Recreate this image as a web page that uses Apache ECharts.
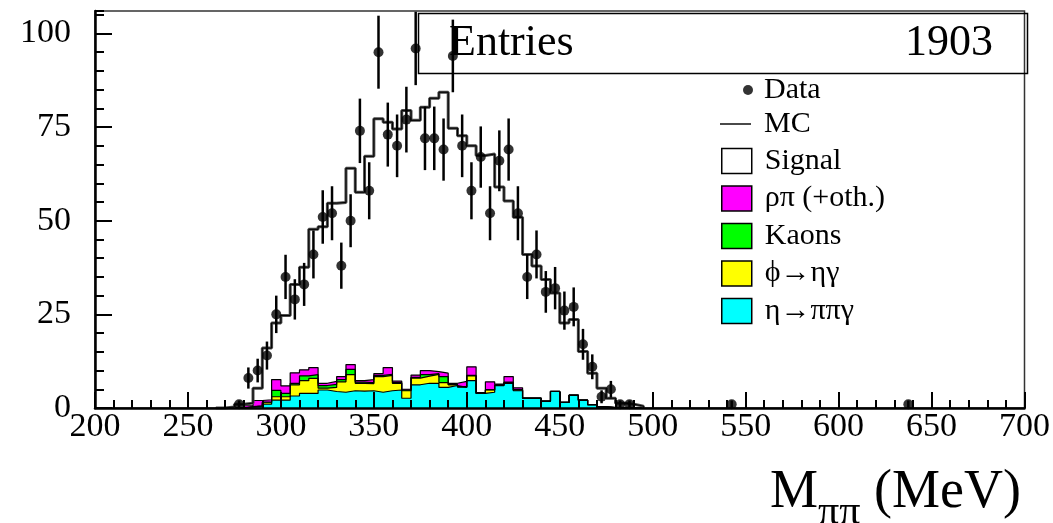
<!DOCTYPE html>
<html>
<head>
<meta charset="utf-8">
<script src="https://cdn.jsdelivr.net/npm/echarts@6/dist/echarts.min.js"></script>
<style>
html, body { margin: 0; padding: 0; background: #fff; }
#mpipi { width: 1053px; height: 523px; }
</style>
</head>
<body>
<div id="mpipi"></div>
<script>
// bin centres (MeV), 5 MeV bins
var massBins = [267.5, 272.5, 277.5, 282.5, 287.5, 292.5, 297.5, 302.5, 307.5, 312.5,
    317.5, 322.5, 327.5, 332.5, 337.5, 342.5, 347.5, 352.5, 357.5, 362.5,
    367.5, 372.5, 377.5, 382.5, 387.5, 392.5, 397.5, 402.5, 407.5, 412.5,
    417.5, 422.5, 427.5, 432.5, 437.5, 442.5, 447.5, 452.5, 457.5, 462.5,
    467.5, 472.5, 477.5, 482.5, 487.5, 492.5];
var binHalf = 2.5;

// MC total
var mcTotal = [0, 0.3, 1.0, 1.3, 5.3, 16, 22.7, 24.7, 33, 37.6,
    47.7, 48.4, 54.7, 54.9, 64, 57.6, 67.2, 77.2, 76.3, 74.5,
    79.4, 76.8, 80.3, 82.7, 84.3, 74.7, 72.7, 70, 67.4, 67.8,
    59, 55.3, 50.9, 41, 37.9, 34.3, 30.7, 22.7, 23.6, 15.1,
    9.3, 5.3, 2.6, 1.3, 1.0, 0.5];

// backgrounds (own contribution of each, stacked bottom -> top)
var etaPiPiGamma = [0, 0, 0, 0.2, 0.3, 1.0, 2.1, 2.1, 3.2, 3.9,
    3.9, 4.8, 4.4, 4.2, 4.6, 4.5, 4.6, 4.2, 4.6, 4.8,
    2.6, 6.2, 6.6, 6.6, 5.5, 6.0, 5.5, 7.3, 3.9, 4.2,
    6.0, 6.6, 4.6, 2.6, 2.6, 1.8, 4.4, 1.5, 3.4, 2.1,
    0.9, 0.3, 0.1, 0, 0, 0];
var phiEtaGamma = [0, 0, 0, 0.1, 0.2, 0.4, 0.9, 0.9, 3.0, 3.4,
    4.0, 0.5, 1.1, 2.8, 4.3, 2.1, 1.9, 4.2, 4.1, 1.8,
    2.0, 1.8, 1.9, 2.4, 1.3, 0.2, 0.1, 1.3, 0, 0.6,
    0.1, 0.2, 0.2, 0, 0, 0, 0, 0, 0, 0,
    0, 0, 0, 0, 0, 0];
var kaons = [0, 0, 0, 0.1, 0.1, 0.2, 1.7, 0.9, 0.4, 1.3,
    1.0, 0.7, 0.8, 0.6, 1.4, 0.3, 0.3, 0.3, 0.3, 0.2,
    0.2, 0.2, 0.4, 0.2, 1.6, 0.1, 0.1, 0.1, 0.1, 0.1,
    0.1, 0.1, 0.1, 0, 0, 0, 0, 0, 0, 0,
    0, 0, 0, 0, 0, 0];
var rhoPi = [0, 0, 0, 0.2, 1.4, 0.6, 2.9, 2.0, 2.8, 1.6,
    1.9, 0.6, 0.8, 0.8, 1.3, 0.4, 0.8, 0.5, 1.8, 0.4,
    0.2, 0.6, 1.1, 0.5, 0.9, 0.3, 1.4, 2.3, 0.1, 2.1,
    0.2, 1.5, 0.5, 0.1, 0.1, 0.1, 0.1, 0, 0.1, 0,
    0, 0, 0, 0, 0, 0];

// data points
var dataMass = [277.5, 282.5, 287.5, 292.5, 297.5, 302.5, 307.5, 312.5, 317.5, 322.5,
    327.5, 332.5, 337.5, 342.5, 347.5, 352.5, 357.5, 362.5, 367.5, 372.5,
    377.5, 382.5, 387.5, 392.5, 397.5, 402.5, 407.5, 412.5, 417.5, 422.5,
    427.5, 432.5, 437.5, 442.5, 447.5, 452.5, 457.5, 462.5, 467.5, 472.5,
    477.5, 482.5, 487.5, 542.5, 637.5];
var dataCounts = [1, 8, 10, 14, 25, 35, 29, 33, 41, 51,
    52, 38, 50, 74, 58, 95, 73, 70, 77, 96,
    72, 72, 69, 94, 70, 58, 67, 52, 66, 69,
    52, 35, 41, 31, 32, 26, 27, 17, 11, 3,
    5, 1, 1, 1, 1];

var yTickLabels = [0, 25, 50, 75, 100];

var serif = '"Liberation Serif", "DejaVu Serif", serif';

function toSteps(vals) {
    var pts = [];
    for (var i = 0; i < massBins.length; i++) {
        pts.push([massBins[i] - binHalf, vals[i]]);
    }
    pts.push([massBins[massBins.length - 1] + binHalf, 0]);
    return pts;
}

// running sums so each layer is drawn from 0 up to its stacked top
function addUp(layers) {
    var out = [];
    for (var i = 0; i < massBins.length; i++) {
        var s = 0;
        for (var k = 0; k < layers.length; k++) s += layers[k][i];
        out.push(+s.toFixed(2));
    }
    return out;
}

function bkg(name, tops, color, z) {
    return {
        name: name,
        type: 'line',
        step: 'end',
        data: toSteps(tops),
        symbol: 'none',
        color: color,
        lineStyle: { color: '#000', width: 1.2 },
        areaStyle: { color: color, opacity: 1 },
        z: z
    };
}

var dataPts = [];
var entries = 0;
for (var i = 0; i < dataMass.length; i++) {
    dataPts.push([dataMass[i], dataCounts[i]]);
    entries += dataCounts[i];
}

var chart = echarts.init(document.getElementById('mpipi'));

var legendText = { fontFamily: serif, fontSize: 30, color: '#000', lineHeight: 25, padding: [0, 0, 0, 8] };

option = {
    animation: false,
    backgroundColor: '#fff',
    grid: {
        left: 95, right: 28, top: 11, bottom: 115,
        show: true, borderColor: '#333', borderWidth: 1.5
    },
    xAxis: {
        type: 'value', min: 200, max: 700, interval: 50, z: 5,
        axisLine: { lineStyle: { color: '#000', width: 2.5 } },
        axisTick: { inside: true, length: 16, lineStyle: { color: '#000', width: 2 } },
        minorTick: { show: true, splitNumber: 5, length: 8, lineStyle: { color: '#000', width: 2 } },
        splitLine: { show: false },
        axisLabel: { fontFamily: serif, fontSize: 34, color: '#000', margin: 2 }
    },
    yAxis: [
        {
            type: 'value', min: 0, max: 106, interval: 25, z: 5,
            axisLine: { show: true, lineStyle: { color: '#000', width: 2.5 } },
            axisTick: { show: true, inside: true, length: 17, lineStyle: { color: '#000', width: 2 } },
            splitLine: { show: false },
            axisLabel: {
                fontFamily: serif, fontSize: 34, color: '#000', margin: 24, showMaxLabel: false,
                formatter: function (v) { return yTickLabels.indexOf(v) >= 0 ? String(v) : ''; }
            }
        },
        {
            type: 'value', min: 0, max: 106, interval: 5, position: 'left', z: 5,
            axisLine: { show: false },
            axisTick: { show: true, inside: true, length: 9, lineStyle: { color: '#000', width: 2 } },
            splitLine: { show: false },
            axisLabel: { show: false }
        }
    ],
    legend: [
        {
            data: [{ name: 'Data', icon: 'circle' }],
            left: 738, top: 70, itemWidth: 22, itemHeight: 10,
            textStyle: { fontFamily: serif, fontSize: 30, color: '#000', lineHeight: 25 }
        },
        {
            data: [{ name: 'MC', icon: 'rect', itemStyle: { color: '#4a4a4a' } }],
            left: 715, top: 104, itemWidth: 31, itemHeight: 2,
            textStyle: legendText
        },
        {
            orient: 'vertical', left: 716, top: 141, itemWidth: 30, itemHeight: 25, itemGap: 7.5,
            textStyle: legendText,
            data: [
                { name: 'Signal', icon: 'rect', itemStyle: { color: '#fff', borderColor: '#000', borderWidth: 1.5 } },
                { name: 'ρπ (+oth.)', icon: 'rect', itemStyle: { color: '#ff00ff', borderColor: '#000', borderWidth: 1.5 } },
                { name: 'Kaons', icon: 'rect', itemStyle: { color: '#00ff00', borderColor: '#000', borderWidth: 1.5 } },
                { name: 'ϕ→ηγ', icon: 'rect', itemStyle: { color: '#ffff00', borderColor: '#000', borderWidth: 1.5 } },
                { name: 'η→ππγ', icon: 'rect', itemStyle: { color: '#00ffff', borderColor: '#000', borderWidth: 1.5 } }
            ]
        }
    ],
    graphic: [
        { type: 'rect', left: 416, top: 11, shape: { width: 609, height: 60 },
          style: { fill: 'none', stroke: '#000', lineWidth: 1.5 }, z: 10 },
        { type: 'text', left: 449, top: 21, style: { text: 'Entries', font: '44px ' + serif, fill: '#000' }, z: 10 },
        { type: 'text', right: 60, top: 21, style: { text: String(entries), font: '44px ' + serif, fill: '#000' }, z: 10 },
        { type: 'text', left: 770, top: 466, style: { text: 'M', font: '54px ' + serif, fill: '#000' } },
        { type: 'text', left: 818, top: 492, style: { text: 'ππ', font: '42px ' + serif, fill: '#000' } },
        { type: 'text', left: 874, top: 466, style: { text: '(MeV)', font: '54px ' + serif, fill: '#000' } }
    ],
    series: [
        bkg('ρπ (+oth.)', addUp([etaPiPiGamma, phiEtaGamma, kaons, rhoPi]), '#ff00ff', 2),
        bkg('Kaons', addUp([etaPiPiGamma, phiEtaGamma, kaons]), '#00ff00', 2),
        bkg('ϕ→ηγ', addUp([etaPiPiGamma, phiEtaGamma]), '#ffff00', 2),
        bkg('η→ππγ', etaPiPiGamma, '#00ffff', 2),
        {
            name: 'MC', type: 'line', step: 'end', data: toSteps(mcTotal), symbol: 'none',
            color: '#4a4a4a', lineStyle: { color: '#4a4a4a', width: 3 }, z: 3
        },
        {
            name: 'Signal', type: 'line', step: 'end', data: toSteps(mcTotal), symbol: 'none',
            color: '#fff', lineStyle: { color: '#000', width: 1 }, z: 4
        },
        {
            name: 'Data', type: 'scatter', data: dataPts, symbolSize: 10,
            itemStyle: { color: '#000' }, z: 6
        },
        {
            type: 'custom', data: dataPts, clip: true, z: 6,
            renderItem: function (params, api) {
                var x = api.value(0), v = api.value(1), e = Math.sqrt(v);
                var hi = api.coord([x, v + e]);
                var lo = api.coord([x, Math.max(v - e, 0)]);
                return {
                    type: 'line',
                    shape: { x1: hi[0], y1: hi[1], x2: lo[0], y2: lo[1] },
                    style: { stroke: '#000', lineWidth: 2.5 }
                };
            }
        }
    ]
};

chart.setOption(option);
</script>
</body>
</html>
